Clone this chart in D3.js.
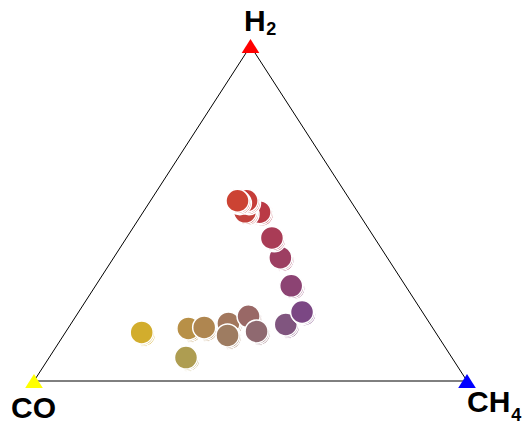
<!DOCTYPE html>
<html>
<head>
<meta charset="utf-8">
<script src="https://cdn.jsdelivr.net/npm/d3@7"></script>
<style>
  body { margin: 0; background: #fff; }
  svg { display: block; }
  text { font-family: "Liberation Sans", Arial, sans-serif; font-weight: bold; fill: #000; }
</style>
</head>
<body>
<svg width="530" height="426"></svg>
<script>
// compositions in percent, one entry per sample (drawing order)
var h2  = [14.5, 7.0, 15.7, 16.0, 17.2, 13.6, 19.3, 14.8, 16.9, 20.6, 28.4, 36.8, 42.7, 50.4, 50.5, 53.8, 53.8];
var co  = [67.8, 61.4, 56.5, 52.7, 46.5, 48.5, 40.8, 41.2, 33.4, 27.8, 26.4, 24.7, 23.7, 22.7, 26.0, 24.0, 26.1];
var ch4 = [17.6, 31.6, 27.8, 31.3, 36.3, 37.9, 39.9, 44.0, 49.7, 51.6, 45.2, 38.5, 33.6, 26.9, 23.5, 22.2, 20.1];

var svg = d3.select("svg");

// ternary frame: CO bottom-left, CH4 bottom-right, H2 top
var xScale = d3.scaleLinear().domain([0, 1]).range([34, 467]);
var yScale = d3.scaleLinear().domain([0, 1]).range([381, 46]);

function project(a, b, c) {
	// a = H2, b = CO, c = CH4 (fractions)
	var s = a + b + c;
	a = a / s; c = c / s;
	return [xScale(c + a / 2), yScale(a)];
}

var corners = [
	{name: "CO",  sub: "",  p: project(0, 1, 0), color: "#ffff00"},
	{name: "CH", sub: "4", p: project(0, 0, 1), color: "#0000ff"},
	{name: "H",  sub: "2", p: project(1, 0, 0), color: "#ff0000"}
];

svg.append("path")
	.attr("d", d3.line()(corners.map(function(d) { return d.p; })) + "Z")
	.attr("fill", "none")
	.attr("stroke", "#000")
	.attr("stroke-width", 1);

// plotly style triangle-up marker, centered on its box
svg.append("g").selectAll("path")
	.data(corners)
	.enter().append("path")
	.attr("d", "M0,-7L8.8,7L-8.8,7Z")
	.attr("transform", function(d) { return "translate(" + d.p[0] + "," + d.p[1] + ")"; })
	.attr("fill", function(d) { return d.color; });

var labelPos = {
	"CO": {x: 11, y: 418, dx: 0, dy: 0},
	"CH": {x: 467, y: 412, dx: 1, dy: 9},
	"H":  {x: 244, y: 31, dx: 0.5, dy: 4}
};

var lbl = svg.append("g").selectAll("text")
	.data(corners)
	.enter().append("text")
	.attr("x", function(d) { return labelPos[d.name].x; })
	.attr("y", function(d) { return labelPos[d.name].y; })
	.style("font-size", "30px")
	.text(function(d) { return d.name; });
lbl.filter(function(d) { return d.sub != ""; })
	.append("tspan")
	.attr("dx", function(d) { return labelPos[d.name].dx; })
	.attr("dy", function(d) { return labelPos[d.name].dy; })
	.style("font-size", "18px")
	.text(function(d) { return d.sub; });

// samples
var samples = h2.map(function(v, i) {
	var s = v + co[i] + ch4[i];
	var fa = v / s, fb = co[i] / s, fc = ch4[i] / s;
	return {
		p: project(v, co[i], ch4[i]),
		color: d3.rgb(255 * (fa + fb), 255 * fb, 255 * fc).toString()
	};
});

var layers = [2.4, 1.2, 0];
var pts = svg.append("g").selectAll("g")
	.data(samples)
	.enter().append("g")
	.attr("transform", function(d) { return "translate(" + d.p[0] + "," + d.p[1] + ")"; });

pts.selectAll("circle")
	.data(function(d) { return layers.map(function(o) { return {o: o, color: d.color}; }); })
	.enter().append("circle")
	.attr("cx", function(d) { return d.o; })
	.attr("cy", function(d) { return d.o; })
	.attr("r", 11.5)
	.attr("fill", function(d) { return d.color; })
	.attr("stroke", "#fff")
	.attr("stroke-width", 1.5);
</script>
</body>
</html>
